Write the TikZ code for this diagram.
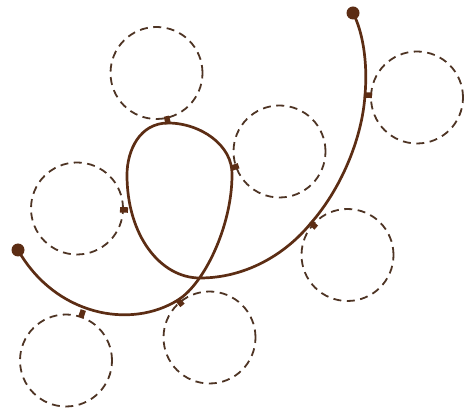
\documentclass[tikz,border=0pt]{standalone}
\usetikzlibrary{calc}
\definecolor{curvebrown}{RGB}{92,45,20}
\definecolor{dashbrown}{RGB}{78,52,36}
\begin{document}
\begin{tikzpicture}[x=1pt,y=-1pt,
  dcircle/.style={circle,draw=dashbrown,line width=1.8pt,dash pattern=on 8pt off 5.5pt,minimum size=92pt,inner sep=0pt},
  mainline/.style={draw=curvebrown,line width=2.7pt,line cap=round},
  tickmark/.style={draw=curvebrown,line width=5.5pt},
  enddot/.style={circle,fill=curvebrown,minimum size=13pt,inner sep=0pt}]
\useasboundingbox (0,0) rectangle (476,411);
% dashed circles
\node[dcircle] (c1) at (156.5,73) {};
\node[dcircle] (c2) at (279.5,151.5) {};
\node[dcircle] (c3) at (417,97.5) {};
\node[dcircle] (c4) at (77,208.5) {};
\node[dcircle] (c5) at (347.5,255) {};
\node[dcircle] (c6) at (209.5,337.5) {};
\node[dcircle] (c7) at (66,360.5) {};
% end dots
\node[enddot] (d1) at (18,250) {};
\node[enddot] (d2) at (353,13) {};
% curve
\draw[mainline] (d1.center)
  .. controls (55,315) and (130,330) .. (178,300)
  .. controls (205,283) and (232,225) .. (232,175)
  .. controls (233,145) and (200,123) .. (168,123)
  .. controls (140,123) and (127,150) .. (127,175)
  .. controls (127,235) and (160,278) .. (200,278)
  .. controls (245,278) and (285,255) .. (311,223)
  .. controls (340,190) and (362,140) .. (365,95)
  .. controls (368,60) and (362,30) .. (d2.center);
% tick points on the curve
\coordinate (t1) at (168,123);
\coordinate (t2) at (232,168);
\coordinate (t3) at (365,95);
\coordinate (t4) at (127,210);
\coordinate (t5) at (311,223);
\coordinate (t6) at (178,300);
\coordinate (t7) at (83,311);
\foreach \t/\c in {t1/c1,t2/c2,t3/c3,t4/c4,t5/c5,t6/c6,t7/c7}{
  \draw[tickmark] ($(\t)!-1pt!(\c.center)$) -- ($(\t)!7pt!(\c.center)$);
}
\end{tikzpicture}
\end{document}
